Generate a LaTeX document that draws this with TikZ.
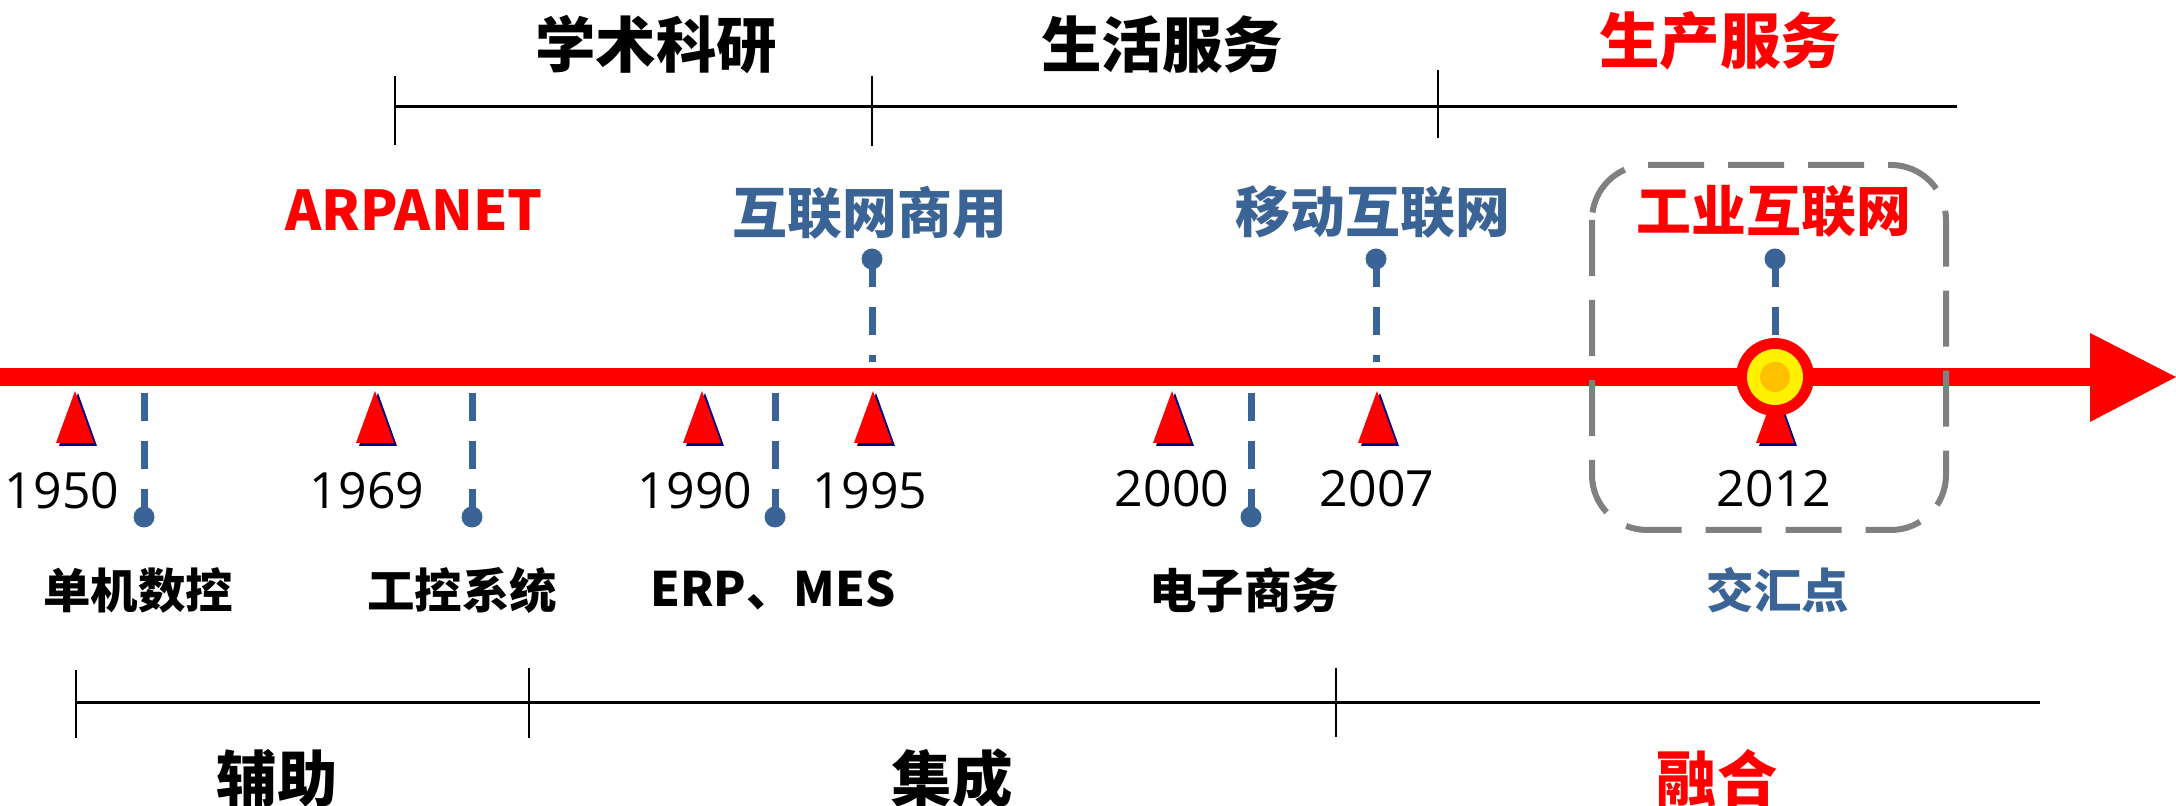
\documentclass[tikz,border=0pt]{standalone}
\usepackage{fontspec}
\newfontfamily\cjk{Noto Sans CJK SC}
\newfontfamily\yearfont{Open Sans}
\definecolor{stemblue}{RGB}{59,100,150}
\definecolor{navy}{RGB}{0,0,128}
\definecolor{boxgray}{RGB}{128,128,128}
\definecolor{core}{RGB}{255,192,0}
\tikzset{
  heading/.style = {font=\cjk\bfseries\fontsize{17.2}{20}\selectfont},
  event/.style   = {font=\cjk\bfseries\fontsize{15.6}{18}\selectfont},
  field/.style   = {font=\cjk\bfseries\fontsize{13.5}{16}\selectfont},
  year/.style    = {font=\yearfont\fontsize{14.2}{16}\selectfont},
  stem/.style    = {draw=stemblue, line width=0.7mm, dash pattern=on 2.8mm off 2mm},
  dot/.style     = {circle, fill=stemblue, inner sep=0, minimum size=2.1mm},
  bar/.style     = {line width=0.3mm},
  tick/.style    = {line width=0.2mm},
  marker/.pic    = {\fill[navy] (-16,55) -- (3,2) -- (22,55) -- cycle;
                    \fill[red] (-19,52) -- (0,0) -- (19,52) -- cycle;}
}

\begin{document}
\begin{tikzpicture}[x=0.1mm,y=-0.1mm]
  \useasboundingbox (0,0) rectangle (2176,806);
  \coordinate (start) at (0,377);
  \coordinate (tip) at (2176,377);
  \fill[red] (start) ++(0,-9) rectangle (2092,386);
  \fill[red] (2090,333) -- (tip) -- (2090,422) -- cycle;

  \pic at (75,391) {marker};
  \pic at (375,391) {marker};
  \pic at (702,391) {marker};
  \pic at (873,391) {marker};
  \pic at (1172,391) {marker};
  \pic at (1377,391) {marker};
  \pic at (1775,391) {marker};

  \node[dot] (p1950) at (144,517) {};
  \node[dot] (p1969) at (472,517) {};
  \node[dot] (p1990) at (775,517) {};
  \node[dot] (p2000) at (1251,517) {};
  \node[dot] (p1995) at (872,259) {};
  \node[dot] (p2007) at (1376,259) {};
  \node[dot] (p2012) at (1775,259) {};
  \coordinate (q1950) at (144,391);
  \coordinate (q1969) at (472,391);
  \coordinate (q1990) at (775,391);
  \coordinate (q2000) at (1251,391);
  \coordinate (q1995) at (872,362);
  \coordinate (q2007) at (1376,362);
  \draw[stem] (p1950.center) -- (q1950);
  \draw[stem] (p1969.center) -- (q1969);
  \draw[stem] (p1990.center) -- (q1990);
  \draw[stem] (p2000.center) -- (q2000);
  \draw[stem] (p1995.center) -- (q1995);
  \draw[stem] (p2007.center) -- (q2007);

  \node[circle, fill=red, inner sep=0, minimum size=7.8mm] (hub) at (1775,377) {};
  \draw[stem] (p2012.center) -- (hub);
  \fill[yellow] (hub) circle[radius=2.8mm];
  \fill[core] (hub) circle[radius=1.5mm];

  \draw[boxgray, line width=0.6mm, dash pattern=on 5.6mm off 2.4mm, rounded corners=5.5mm]
    (1592,165) rectangle (1946,530);

  \draw[bar] (395,107) -- (1957,107);
  \draw[tick] (395,76) -- (395,145);
  \draw[tick] (872,76) -- (872,146);
  \draw[tick] (1438,70) -- (1438,138);
  \draw[bar] (76,703) -- (2040,703);
  \draw[tick] (76,670) -- (76,738);
  \draw[tick] (529,668) -- (529,738);
  \draw[tick] (1336,668) -- (1336,737);

  \node[heading] (academic) at (656,45) {学术科研};
  \node[heading] (life) at (1162,45) {生活服务};
  \node[heading, red] (production) at (1720,41) {生产服务};

  \node[event, red] (arpanet) at (414,210) {ARPANET};
  \node[event, stemblue] (commercial) at (870,213) {互联网商用};
  \node[event, stemblue] (mobile) at (1373,212) {移动互联网};
  \node[event, red] (industrial) at (1774,211) {工业互联网};

  \node[year] (y1950) at (62,491) {1950};
  \node[year] (y1969) at (367,491) {1969};
  \node[year] (y1990) at (695,491) {1990};
  \node[year] (y1995) at (870,491) {1995};
  \node[year] (y2000) at (1172,489) {2000};
  \node[year] (y2007) at (1377,489) {2007};
  \node[year] (y2012) at (1774,489) {2012};

  \node[field] (nc) at (138,590) {单机数控};
  \node[field] (ics) at (462,590) {工控系统};
  \node[field] (erp) at (773,590) {ERP、MES};
  \node[field] (ec) at (1244,590) {电子商务};
  \node[field, stemblue] (meet) at (1778,590) {交汇点};

  \node[heading] (aux) at (277,778) {辅助};
  \node[heading] (integ) at (952,778) {集成};
  \node[heading, red] (fusion) at (1717,778) {融合};
\end{tikzpicture}
\end{document}
